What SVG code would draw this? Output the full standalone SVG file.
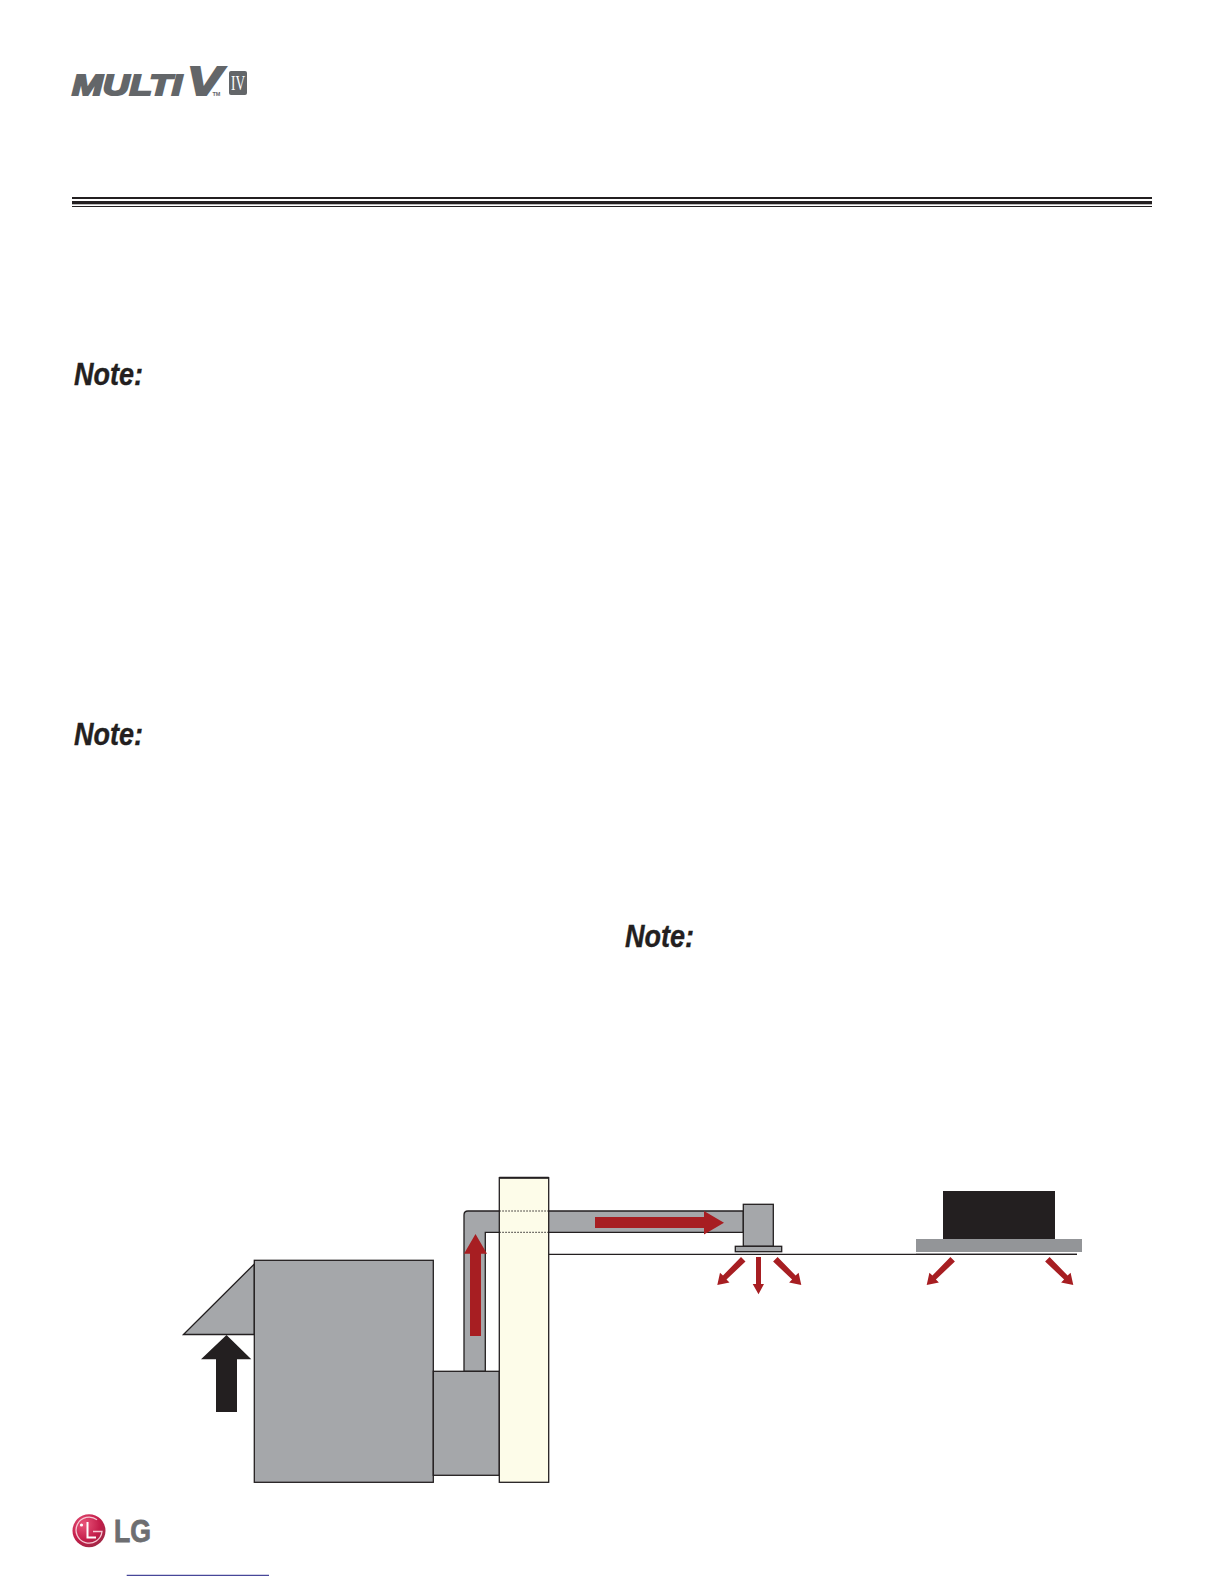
<svg xmlns="http://www.w3.org/2000/svg" width="1224" height="1584" viewBox="0 0 1224 1584">
<defs>
<radialGradient id="lgGrad" cx="0.35" cy="0.3" r="0.8"><stop offset="0" stop-color="#e8557a"/><stop offset="0.6" stop-color="#c41d4a"/><stop offset="1" stop-color="#9a2a45"/></radialGradient>
</defs>
<style>
.gray{fill:#a5a7aa;stroke:#231f20;stroke-width:1.3}
.red{fill:#a71e22}
.note{font-family:"Liberation Sans",Arial,sans-serif;font-weight:bold;font-style:italic;font-size:32px;fill:#231f20;stroke:#231f20;stroke-width:.4}
.logo{font-family:"Liberation Sans",Arial,sans-serif;font-weight:bold;font-style:italic;fill:#636669;stroke:#636669}
.dot{fill:none;stroke:#231f20;stroke-width:1;stroke-dasharray:1.5 1.5}
</style>
<rect width="1224" height="1584" fill="#fff"/>
<g id="logo-multiv">
<text class="logo" x="72" y="94.5" font-size="30" textLength="110" lengthAdjust="spacingAndGlyphs" stroke-width="2">MULTI</text>
<text class="logo" x="187" y="94.5" font-size="40" textLength="35" lengthAdjust="spacingAndGlyphs" stroke-width="2">V</text>
<text x="212.5" y="95.5" font-family="Liberation Sans,sans-serif" font-size="5.5" font-weight="bold" fill="#636669">TM</text>
<rect x="229" y="71" width="18" height="24" rx="2" fill="#636669"/>
<text x="238" y="90" font-family="Liberation Serif,serif" font-size="20" fill="#fff" text-anchor="middle" textLength="14" lengthAdjust="spacingAndGlyphs">IV</text>
</g>
<g id="header-rule" fill="#231f20">
<rect x="72" y="197" width="1080" height="2"/>
<rect x="72" y="201" width="1080" height="3.3"/>
<rect x="72" y="206" width="1080" height="1"/>
</g>
<g id="notes">
<text class="note" x="74" y="385" textLength="69" lengthAdjust="spacingAndGlyphs">Note:</text>
<text class="note" x="74" y="745" textLength="69" lengthAdjust="spacingAndGlyphs">Note:</text>
<text class="note" x="625" y="947" textLength="69" lengthAdjust="spacingAndGlyphs">Note:</text>
</g>
<g id="connectors">
<path id="ceiling" d="M548.7 1254.3H1077" fill="none" stroke="#231f20" stroke-width="1.2"/>
</g>
<g id="hood"><path class="gray" d="M183.5 1334.5L254.3 1264V1334.5Z"/></g>
<g id="unit"><rect class="gray" x="254.3" y="1260.3" width="179" height="222"/></g>
<g id="duct">
<path class="gray" d="M464 1371.3V1215Q464 1211 468 1211H743.3V1232.3H485.3V1371.3Z"/>
</g>
<g id="plenum"><rect class="gray" x="433.3" y="1371.3" width="66" height="104"/></g>
<g id="wall">
<rect x="499.3" y="1177.7" width="49.4" height="304.6" fill="#fdfce9" stroke="#231f20" stroke-width="1.3"/>
<path d="M499.3 1177.7H548.7" stroke="#231f20" stroke-width="2"/>
<path class="dot" d="M499.3 1211H548.7M499.3 1232.3H548.7"/>
</g>
<g id="diffuser">
<rect class="gray" x="743.3" y="1204.3" width="30" height="42"/>
<rect class="gray" x="735.3" y="1246.3" width="46.4" height="5.4"/>
</g>
<g id="cassette">
<rect x="943" y="1191" width="112" height="48" fill="#231f20"/>
<rect x="916" y="1239" width="166" height="13" fill="#939598"/>
<path d="M916 1254.3H1077" stroke="#231f20" stroke-width="1.2"/>
</g>
<g id="intake-arrow"><path fill="#231f20" d="M226.5 1335L251.3 1359.3H237V1412H216V1359.3H201Z"/></g>
<g id="airflow-arrows" class="red">
<path d="M475.5 1234L487 1253.7H481V1336H470V1253.7H464Z"/>
<path d="M724 1222.7L704 1234.5V1228H595V1217H704V1211Z"/>
<path d="M758.5 1294.3L764 1284H761V1257H756V1284H752.7Z"/>
<path d="M717.3 1285L729.5 1282.5L726.5 1279.5L745.5 1261.5L741 1257L723 1275.5L720 1272.8Z"/>
<path d="M801.3 1285L789.1 1282.5L792.1 1279.5L773.1 1261.5L777.6 1257L795.6 1275.5L798.6 1272.8Z"/>
<path d="M926.7 1285L938.9 1282.5L935.9 1279.5L954.9 1261.5L950.4 1257L932.4 1275.5L929.4 1272.8Z"/>
<path d="M1073.3 1285L1061.1 1282.5L1064.1 1279.5L1045.1 1261.5L1049.6 1257L1067.6 1275.5L1070.6 1272.8Z"/>
</g>
<g id="logo-lg">
<circle cx="89" cy="1530.7" r="16.5" fill="url(#lgGrad)"/>
<path d="M97 1519.8A13 13 0 1 0 102 1531.5H93" fill="none" stroke="#f6c9d4" stroke-width="1.3"/>
<path d="M87.5 1522V1537.5H96" fill="none" stroke="#fff" stroke-width="2"/>
<circle cx="81.5" cy="1525" r="1.6" fill="#fff"/>
<text x="114" y="1541.5" font-family="Liberation Sans,sans-serif" font-weight="bold" font-size="31" fill="#6d6e71" stroke="#6d6e71" stroke-width=".8" textLength="37" lengthAdjust="spacingAndGlyphs">LG</text>
</g>
<path id="footer-link-rule" d="M126.7 1575.3H269" stroke="#1a1a80" stroke-width="1"/>
</svg>
